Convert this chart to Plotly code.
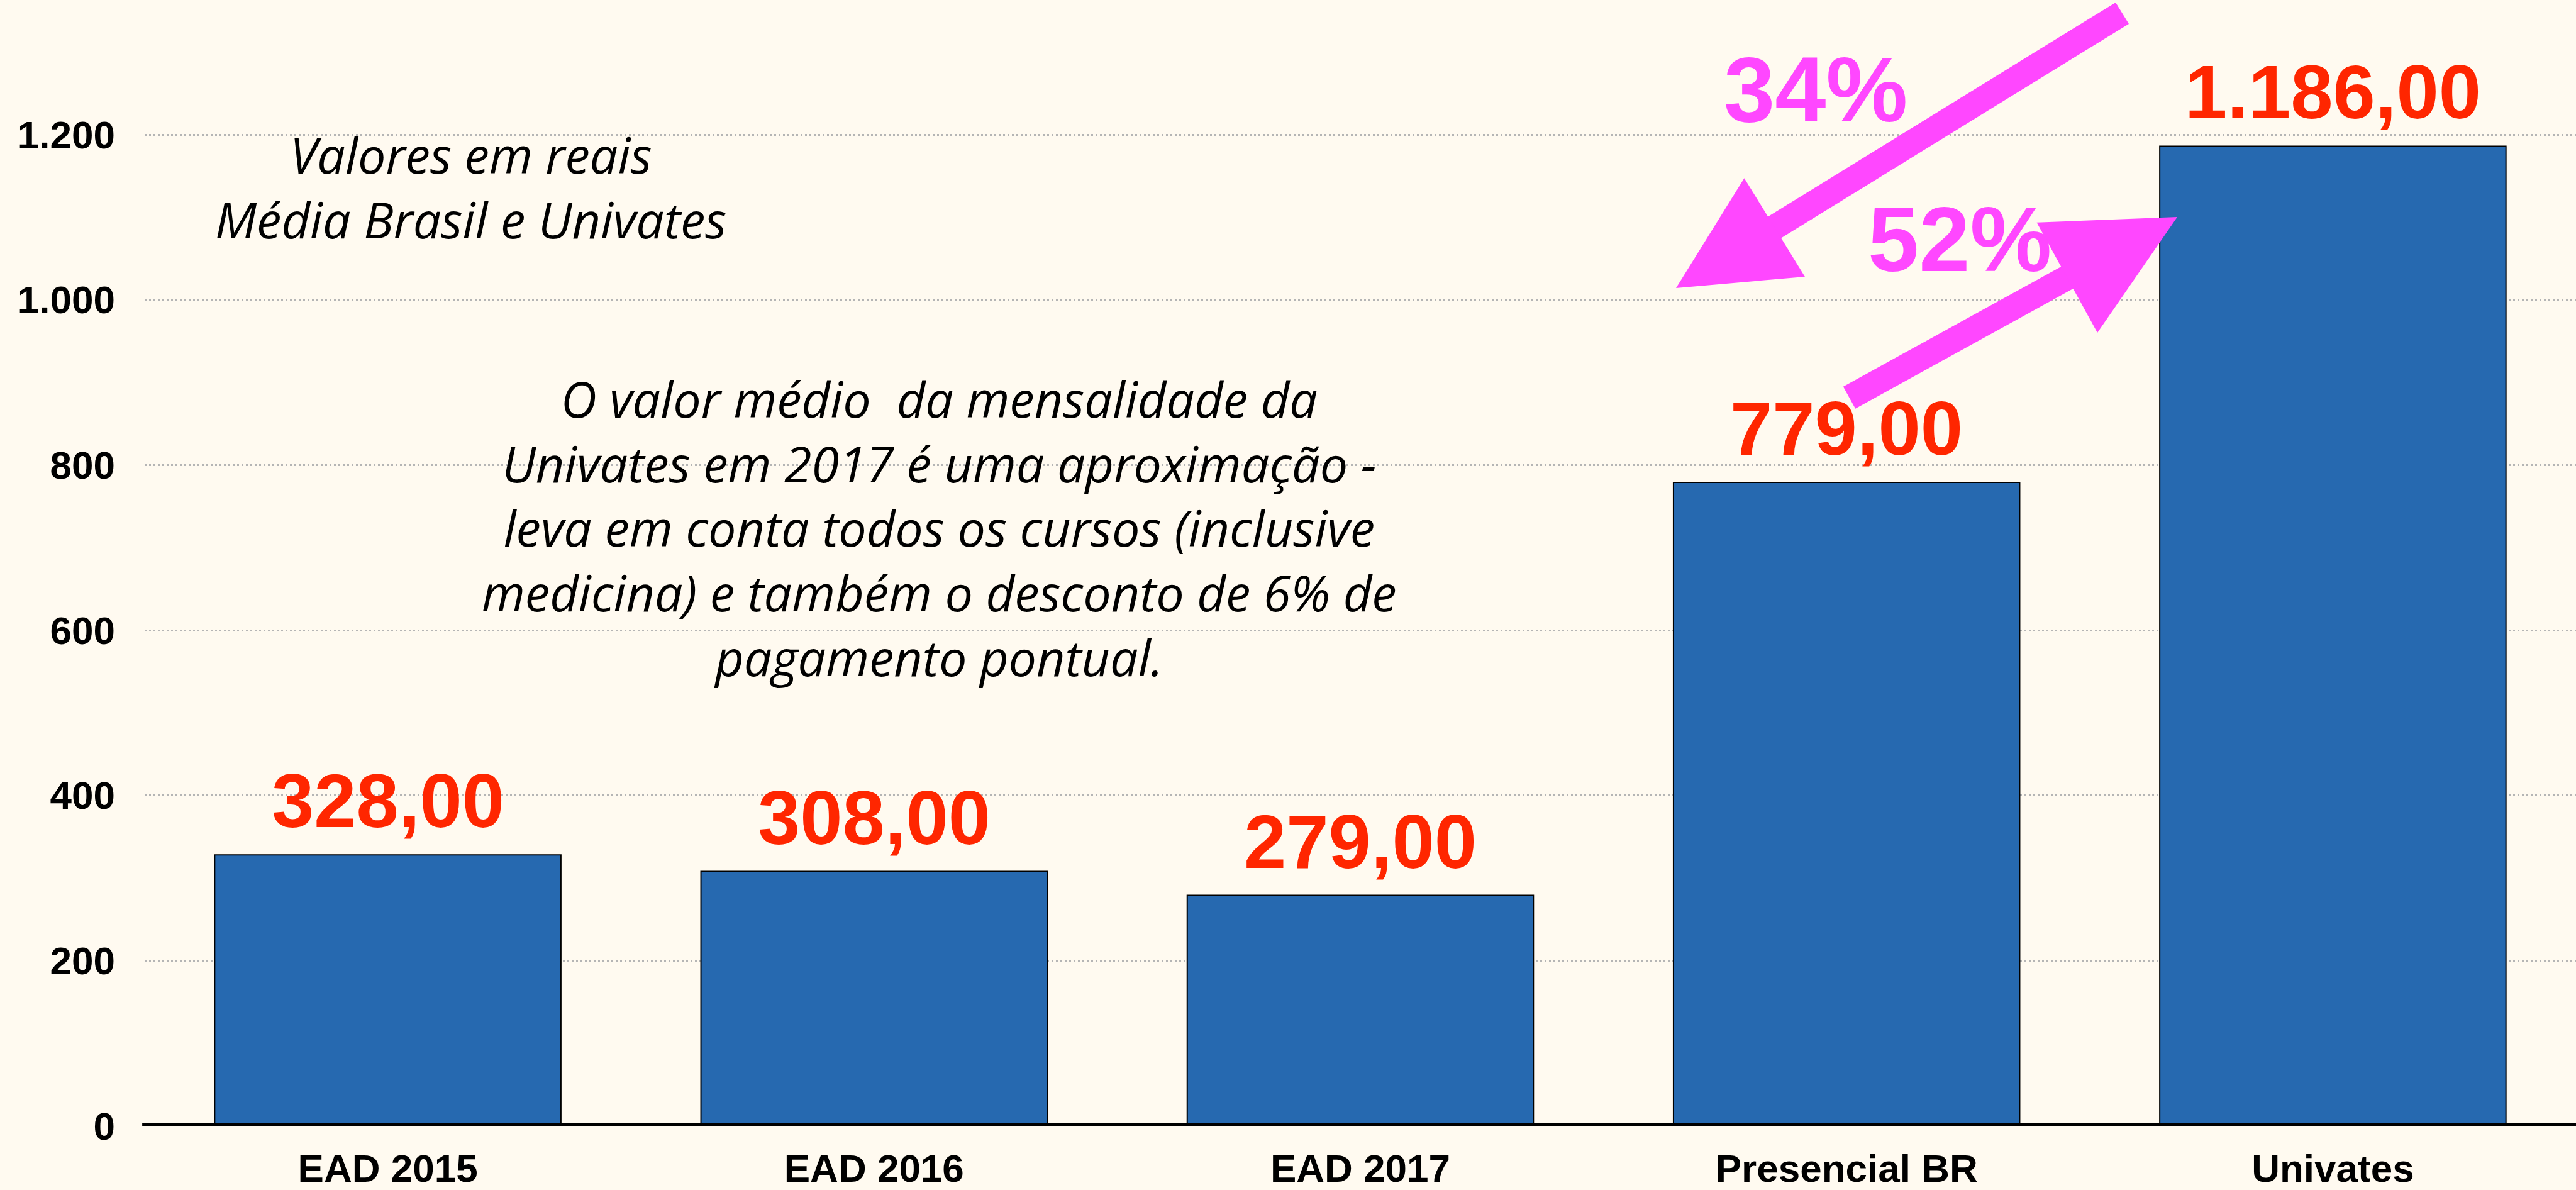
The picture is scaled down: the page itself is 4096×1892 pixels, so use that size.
import plotly.graph_objects as go

# ---------------- data ----------------
categories = ["EAD 2015", "EAD 2016", "EAD 2017", "Presencial BR", "Univates"]
values = [328, 308, 279, 779, 1186]
y_ticks = [0, 200, 400, 600, 800, 1000, 1200]
note_title = "Valores em reais<br>Média Brasil e Univates"
note_body = ("O valor médio  da mensalidade da<br>"
             "Univates em 2017 é uma aproximação -<br>"
             "leva em conta todos os cursos (inclusive<br>"
             "medicina) e também o desconto de 6% de<br>"
             "pagamento pontual.")
pct_labels = ["34%", "52%"]


def br_num(v, dec=2):
    s = f"{v:,.{dec}f}"
    return s.replace(",", "X").replace(".", ",").replace("X", ".")


# ---------------- layout geometry ----------------
W, H = 4096, 1892
L, R, T, B = 230, 0, 0, 102
PW, PH = W - L - R, H - T - B


def pxx(xp):
    return (xp - L) / PW


def pxy(yp):
    return 1 - (yp - T) / PH


BG = "#fffaf0"
BAR = "#2669b0"
RED = "#ff2600"
PINK = "#ff47ff"
NOTE_FONT = dict(family="Open Sans", size=79, color="black", style="italic")
TICK_FONT = dict(family="Liberation Sans", size=62, color="black", weight="bold")

fig = go.Figure(
    go.Bar(
        x=categories,
        y=values,
        marker=dict(color=BAR, line=dict(color="black", width=2)),
        hoverinfo="skip",
    )
)

# value labels
for c, v in zip(categories, values):
    fig.add_annotation(
        x=c, y=v, xref="x", yref="y", text=br_num(v), showarrow=False,
        yanchor="bottom", xanchor="center", yshift=16,
        font=dict(family="Liberation Sans", size=121, color=RED, weight="bold"),
    )

# baseline
fig.add_shape(type="line", xref="paper", x0=-0.001, x1=1, yref="y", y0=0, y1=0,
              line=dict(color="black", width=9), layer="above")

# italic notes
fig.add_annotation(
    xref="paper", yref="paper", x=pxx(748), y=pxy(297), text=note_title,
    showarrow=False, xanchor="center", yanchor="middle", align="center",
    font=NOTE_FONT,
)
fig.add_annotation(
    xref="paper", yref="paper", x=pxx(1493), y=pxy(839), text=note_body,
    showarrow=False, xanchor="center", yanchor="middle", align="center",
    font=NOTE_FONT,
)

# arrows
fig.add_annotation(
    xref="paper", yref="paper", x=pxx(2665), y=pxy(458), ax=711, ay=-438,
    axref="pixel", ayref="pixel", text="", showarrow=True,
    arrowhead=2, arrowsize=0.92, arrowwidth=40, arrowcolor=PINK, standoff=0,
)
fig.add_annotation(
    xref="paper", yref="paper", x=pxx(3462), y=pxy(345), ax=-523, ay=288,
    axref="pixel", ayref="pixel", text="", showarrow=True,
    arrowhead=2, arrowsize=1.0, arrowwidth=40, arrowcolor=PINK, standoff=0,
)

# percentage labels
for lab, cx, base in zip(pct_labels, [2887, 3116], [194, 432]):
    fig.add_annotation(
        xref="paper", yref="paper", x=pxx(cx), y=pxy(base + 32), text=lab,
        showarrow=False, xanchor="center", yanchor="bottom",
        font=dict(family="Liberation Sans", size=146, color=PINK, weight="bold"),
    )

fig.update_layout(
    template="none",
    width=W, height=H,
    margin=dict(l=L, r=R, t=T, b=B, pad=0, autoexpand=False),
    paper_bgcolor=BG, plot_bgcolor=BG,
    bargap=0.288,
    showlegend=False,
    xaxis=dict(
        automargin=False,
        showgrid=False, zeroline=False, showline=False, ticks="",
        ticklabelstandoff=26, range=[-0.5, 4.5],
        tickfont=TICK_FONT,
    ),
    yaxis=dict(
        automargin=False,
        range=[0, 1363], tickvals=y_ticks,
        ticktext=[br_num(v, 0) for v in y_ticks],
        showgrid=True, gridcolor="#b5b5b5", gridwidth=2.5, griddash="3px,4px",
        zeroline=False, showline=False, ticks="", ticklabelstandoff=46,
        tickfont=TICK_FONT,
    ),
)

fig.write_html(
    "out.html",
    config={"displayModeBar": False},
    post_script="document.body.style.margin='0';document.body.style.background='%s';" % BG,
)
